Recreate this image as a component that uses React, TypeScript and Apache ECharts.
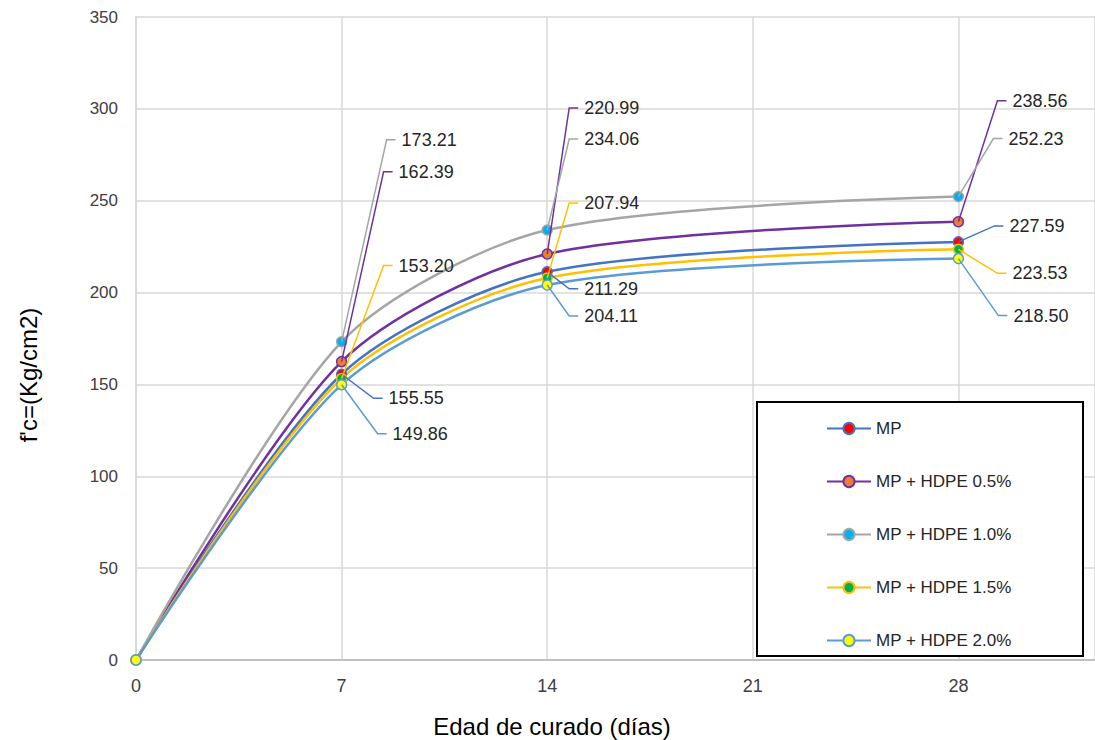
import React, { useEffect, useRef } from "react";
import * as echarts from "echarts";

// ---- data ----
const days = [0, 7, 14, 28];
const seriesNames = [
  "MP",
  "MP + HDPE 0.5%",
  "MP + HDPE 1.0%",
  "MP + HDPE 1.5%",
  "MP + HDPE 2.0%",
];
const mp = [0, 155.55, 211.29, 227.59];
const hdpe05 = [0, 162.39, 220.99, 238.56];
const hdpe10 = [0, 173.21, 234.06, 252.23];
const hdpe15 = [0, 153.2, 207.94, 223.53];
const hdpe20 = [0, 149.86, 204.11, 218.5];
const xTicks = [0, 7, 14, 21, 28];
const yTicks = [0, 50, 100, 150, 200, 250, 300, 350];
const xTitle = "Edad de curado (días)";
const yTitle = "f'c=(Kg/cm2)";

// ---- styling ----
const lineColors = ["#4472C4", "#7030A0", "#A5A5A5", "#FFC000", "#5B9BD5"];
const markerFills = ["#FF0000", "#ED7D31", "#00B0F0", "#00B050", "#FFFF00"];
// label anchor offsets (px) from the point, per series, per point index
const labelOffsets: (number[] | null)[][] = [
  [null, [41, 24], [31, 17], [45, -16]],
  [null, [51, -190], [31, -146], [48, -121]],
  [null, [54, -202], [31, -91], [44, -58]],
  [null, [51, -113], [31, -75], [48, 24]],
  [null, [45, 49], [31, 31], [49, 57]],
];
const leaderTail = 9;
const labelGap = 6;

const allValues = [mp, hdpe05, hdpe10, hdpe15, hdpe20];

export default function App() {
  const ref = useRef<HTMLDivElement>(null);
  useEffect(() => {
    if (!ref.current) return;
    const chart = echarts.init(ref.current, undefined, { renderer: "svg" });
    const series = allValues.map((vals, si) => ({
      type: "line",
      name: seriesNames[si],
      smooth: 0.28,
      symbol: "circle",
      symbolSize: 10,
      showSymbol: true,
      lineStyle: { color: lineColors[si], width: 2.5 },
      itemStyle: {
        color: markerFills[si],
        borderColor: lineColors[si],
        borderWidth: 1.5,
      },
      label: {
        show: true,
        fontSize: 18,
        fontFamily: "Liberation Sans",
        color: "#262626",
        formatter: (p: any) => Number(p.value[1]).toFixed(2),
      },
      labelLayout: (p: any) => {
        const off = labelOffsets[si][p.dataIndex];
        if (!off) return {};
        return {
          x: p.rect.x + p.rect.width / 2 + off[0] + labelGap,
          y: p.rect.y + p.rect.height / 2 + off[1],
          align: "left",
          verticalAlign: "middle",
        };
      },
      emphasis: { disabled: true },
      data: days.map((d, i) =>
        i === 0
          ? { value: [d, vals[i]], label: { show: false } }
          : { value: [d, vals[i]] }
      ),
    }));

    const baseGraphics: any[] = [
      {
        type: "rect",
        z: 3,
        shape: { x: 757, y: 402, width: 326, height: 254 },
        style: { fill: "#FFFFFF", stroke: "#000000", lineWidth: 2 },
      },
      {
        type: "text",
        x: 552,
        y: 726,
        style: {
          text: xTitle,
          fontSize: 24,
          fontFamily: "Liberation Sans",
          fill: "#000000",
          textAlign: "center",
          textVerticalAlign: "middle",
        },
      },
      {
        type: "text",
        x: 28,
        y: 375,
        rotation: Math.PI / 2,
        style: {
          text: yTitle,
          fontSize: 24,
          fontFamily: "Liberation Sans",
          fill: "#000000",
          textAlign: "center",
          textVerticalAlign: "middle",
        },
      },
    ];

    chart.setOption({
      animation: false,
      textStyle: { fontFamily: "Liberation Sans" },
      grid: { left: 136, right: 0, top: 17, bottom: 80, containLabel: false },
      xAxis: {
        type: "value",
        min: 0,
        max: 32.65,
        interval: 7,
        axisLine: { show: true, lineStyle: { color: "#BFBFBF", width: 2 } },
        axisTick: { show: false },
        splitLine: { show: true, lineStyle: { color: "#D9D9D9", width: 1.5 } },
        axisLabel: {
          showMaxLabel: false,
          margin: 17,
          fontSize: 18,
          color: "#404040",
          formatter: (v: number) => (xTicks.includes(v) ? String(v) : ""),
        },
      },
      yAxis: {
        type: "value",
        min: yTicks[0],
        max: yTicks[yTicks.length - 1],
        interval: 50,
        axisLine: { show: true, lineStyle: { color: "#D9D9D9", width: 2 } },
        axisTick: { show: false },
        splitLine: { show: true, lineStyle: { color: "#D9D9D9", width: 1.5 } },
        axisLabel: { margin: 18, fontSize: 17, color: "#404040" },
      },
      legend: {
        orient: "vertical",
        left: 826,
        top: 420,
        itemWidth: 44,
        itemHeight: 14,
        itemGap: 36,
        padding: 0,
        textStyle: { fontSize: 17, color: "#262626", lineHeight: 14 },
        data: seriesNames,
      },
      series,
    });

    // leader lines from each point to its label, placed with the chart's own scales
    const leaders: any[] = [];
    allValues.forEach((vals, si) => {
      days.forEach((d, i) => {
        const off = labelOffsets[si][i];
        if (!off) return;
        const pt = chart.convertToPixel({ gridIndex: 0 }, [d, vals[i]]) as number[];
        const ex = pt[0] + off[0];
        const ey = pt[1] + off[1];
        leaders.push({
          type: "polyline",
          z: 5,
          silent: true,
          shape: { points: [[pt[0], pt[1]], [ex - leaderTail, ey], [ex, ey]] },
          style: { stroke: lineColors[si], lineWidth: 1.5, fill: null },
        });
      });
    });
    chart.setOption({ graphic: [...baseGraphics, ...leaders] });

    return () => chart.dispose();
  }, []);
  return (
    <div
      ref={ref}
      style={{ position: "absolute", left: 0, top: 0, width: 1095, height: 740, background: "#fff" }}
    />
  );
}
